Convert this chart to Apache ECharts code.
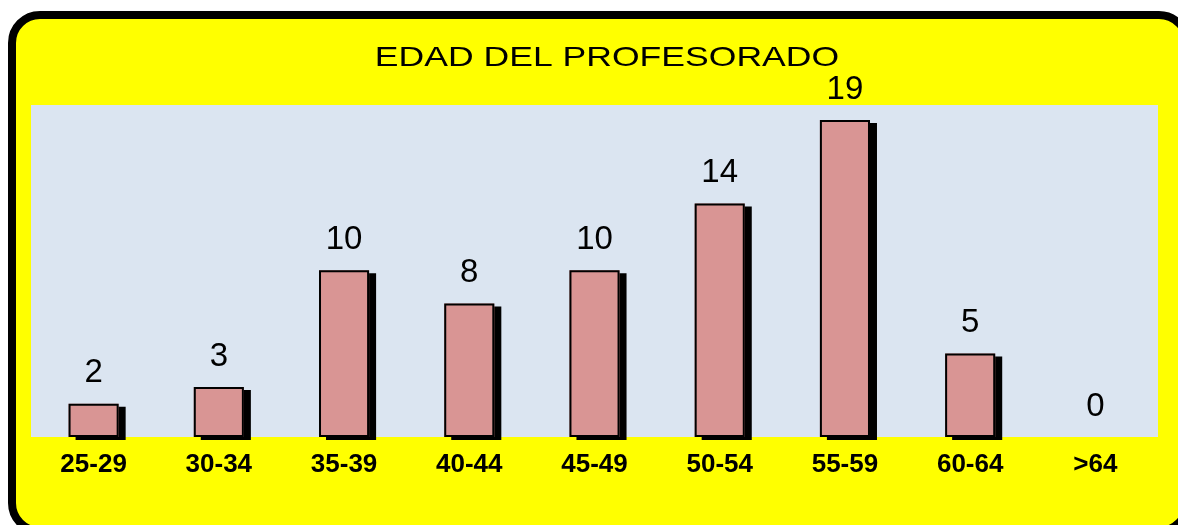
<!DOCTYPE html>
<html>
<head>
<meta charset="utf-8">
<title>Edad del profesorado</title>
<script src="https://cdn.jsdelivr.net/npm/echarts@6/dist/echarts.min.js"></script>
<style>
  html, body { margin: 0; padding: 0; background: #fff; }
  #chart { width: 1178px; height: 525px; }
</style>
</head>
<body>
<div id="chart"></div>
<script>
const titleText = 'EDAD DEL PROFESORADO'
const ageGroups = ['25-29', '30-34', '35-39', '40-44', '45-49', '50-54', '55-59', '60-64', '>64']
const teachers = [2, 3, 10, 8, 10, 14, 19, 5, 0]

const font = '"Liberation Sans", Arial, sans-serif'
const barColor = '#d99594'

const chart = echarts.init(document.getElementById('chart'), null, { renderer: 'canvas' })

chart.setOption({
  animation: false,
  backgroundColor: '#fff',
  graphic: [
    {
      type: 'rect',
      z: -10,
      shape: { x: 12, y: 15, width: 1175, height: 516, r: 28 },
      style: { fill: '#ffff00', stroke: '#000', lineWidth: 8 }
    },
    {
      // the original title is a stretched Arial, so scale it sideways
      type: 'text',
      z: 10,
      x: 607,
      y: 58,
      scaleX: 1.27,
      style: {
        text: titleText,
        x: 0,
        y: 0,
        align: 'center',
        verticalAlign: 'middle',
        fill: '#000',
        font: '28px ' + font
      }
    }
  ],
  grid: {
    left: 31,
    right: 20,
    top: 105,
    bottom: 88,
    show: true,
    backgroundColor: '#dbe5f1',
    borderWidth: 0
  },
  xAxis: {
    type: 'category',
    data: ageGroups,
    axisLine: { show: false },
    axisTick: { show: false },
    axisLabel: {
      color: '#000',
      fontFamily: font,
      fontSize: 26,
      fontWeight: 'bold',
      margin: 15
    }
  },
  yAxis: {
    type: 'value',
    min: 0,
    max: 19.9,
    show: false,
    splitLine: { show: false }
  },
  series: [
    {
      // fill with the hard black drop shadow
      type: 'bar',
      barWidth: '40%',
      z: 2,
      data: teachers.map(v => ({
        value: v,
        itemStyle: v === 0 ? { shadowColor: 'rgba(0,0,0,0)' } : {}
      })),
      itemStyle: {
        color: barColor,
        shadowColor: '#000',
        shadowBlur: 0,
        shadowOffsetX: 7,
        shadowOffsetY: 3
      },
      label: {
        show: true,
        position: 'top',
        distance: 14,
        color: '#000',
        fontFamily: font,
        fontSize: 33
      }
    },
    {
      // black outline drawn over the fill
      type: 'bar',
      barWidth: '40%',
      barGap: '-100%',
      z: 3,
      silent: true,
      data: teachers.map(v => ({
        value: v,
        itemStyle: v === 0 ? { borderWidth: 0 } : {}
      })),
      itemStyle: {
        color: 'rgba(0,0,0,0)',
        borderColor: '#000',
        borderWidth: 2
      }
    }
  ]
})
</script>
</body>
</html>
